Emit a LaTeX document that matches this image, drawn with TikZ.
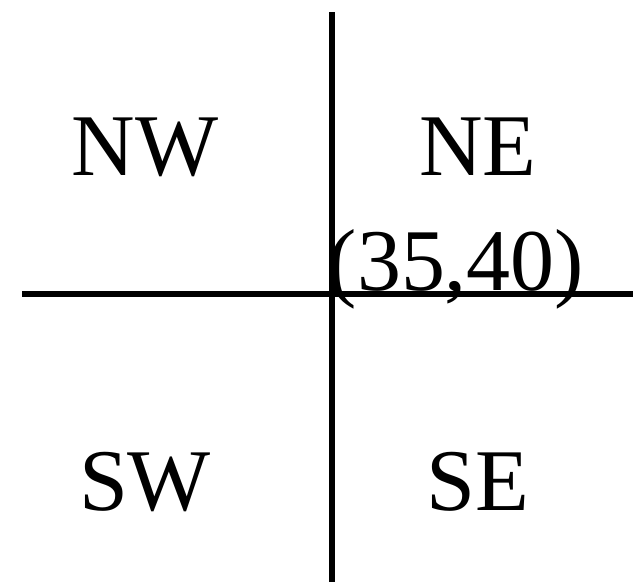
\documentclass[tikz,border=0pt]{standalone}
\usepackage{fontspec}
\setmainfont{Liberation Serif}
\begin{document}
\begin{tikzpicture}[x=1pt,y=-1pt,
  lbl/.style={anchor=base,inner sep=0pt,font=\fontsize{88}{92}\selectfont},
  axis/.style={line width=6pt,black}]
\useasboundingbox (0,0) rectangle (633,582);
\coordinate (vtop) at (332,12);
\coordinate (vbot) at (332,582);
\coordinate (hl) at (22,294);
\coordinate (hr) at (633,294);
\draw[axis] (vtop) -- (vbot);
\draw[axis] (hl) -- (hr);
\node[lbl] (nw) at (145,175) {NW};
\node[lbl] (ne) at (478,175) {NE};
\node[lbl] (pt) at (456,290) {(35,40)};
\node[lbl] (sw) at (145,510) {SW};
\node[lbl] (se) at (478,510) {SE};
\end{tikzpicture}
\end{document}
